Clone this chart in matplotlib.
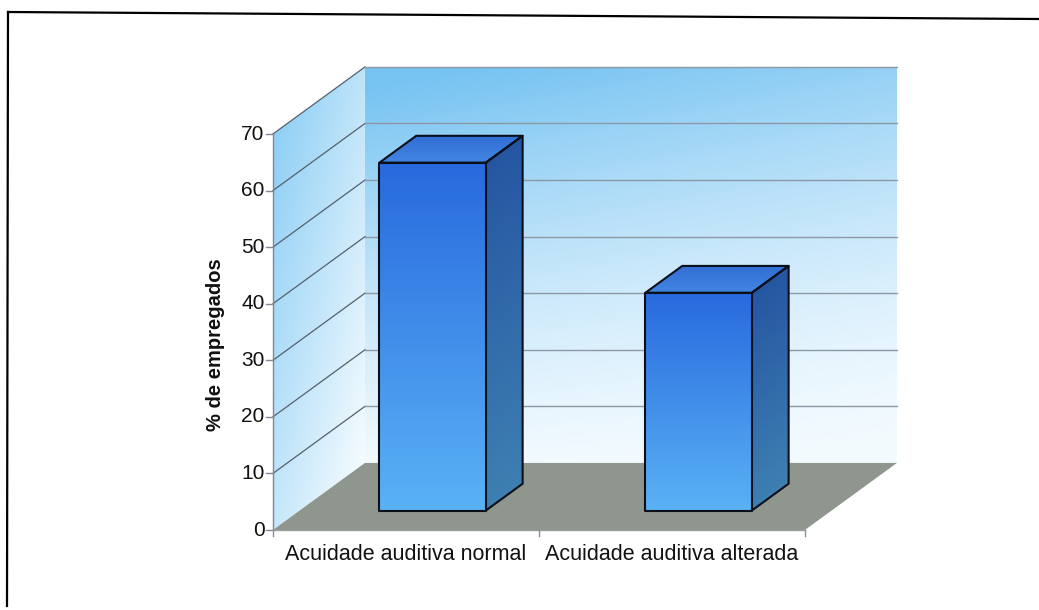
import numpy as np
import matplotlib
matplotlib.use("Agg")
import matplotlib.pyplot as plt
from matplotlib.patches import Polygon
from matplotlib.lines import Line2D

plt.rcParams['font.family'] = ['Liberation Sans', 'DejaVu Sans']

# ---- data ----
categories = ["Acuidade auditiva normal", "Acuidade auditiva alterada"]
values = [61.5, 38.5]
y_ticks = [0, 10, 20, 30, 40, 50, 60, 70]
y_label = "% de empregados"

Y_MAX = 70
N_CAT = len(categories)

# oblique projection: depth d in [0, 1] shifts a point right and up
DX, DY = 0.346, 11.86


def proj(x, y, d):
    return (x + DX * d, y + DY * d)


def mix(c_low, c_high, t):
    c_low = np.array(c_low, float) / 255.0
    c_high = np.array(c_high, float) / 255.0
    t = np.clip(t, 0, 1)[..., None]
    return c_low + (c_high - c_low) * t


fig = plt.figure(figsize=(10.39, 6.10), dpi=100)
ax = fig.add_axes([0, 0, 1, 1])
XLIM = (-1.026, 2.880)
YLIM = (-14.14, 93.69)
ax.axis('off')


def shaded_face(pts, colorfunc, zorder, edge=None, lw=0):
    pts = np.asarray(pts, float)
    x0, x1 = pts[:, 0].min(), pts[:, 0].max()
    y0, y1 = pts[:, 1].min(), pts[:, 1].max()
    n = 300
    X, Y = np.meshgrid(np.linspace(x0, x1, n), np.linspace(y0, y1, n))
    img = colorfunc(X, Y)
    clip = Polygon(pts, closed=True, facecolor='none', edgecolor='none')
    ax.add_patch(clip)
    im = ax.imshow(img, extent=(x0, x1, y0, y1), origin='lower', aspect='auto',
                   zorder=zorder, interpolation='bilinear')
    im.set_clip_path(clip)
    if edge is not None:
        ax.add_patch(Polygon(pts, closed=True, facecolor='none', edgecolor=edge,
                             linewidth=lw, zorder=zorder + 0.5, joinstyle='round'))


# ---- back wall ----
back = [proj(0, 0, 1), proj(N_CAT, 0, 1), proj(N_CAT, Y_MAX, 1), proj(0, Y_MAX, 1)]


def back_color(X, Y):
    y = np.clip((Y - DY) / Y_MAX, 0, 1)
    x = np.clip((X - DX) / N_CAT, 0, 1)
    t = 0.75 * y ** 1.6 + 0.32 * (1 - x) * y ** 0.6
    return mix((244, 251, 255), (118, 195, 242), t)


shaded_face(back, back_color, 1)

# ---- left side wall ----
left = [proj(0, 0, 0), proj(0, 0, 1), proj(0, Y_MAX, 1), proj(0, Y_MAX, 0)]


def left_color(X, Y):
    d = np.clip(X / DX, 0, 1)
    y = np.clip((Y - DY * d) / Y_MAX, 0, 1)
    t = 0.55 * y + 0.48 * (1 - d)
    return mix((246, 252, 255), (145, 208, 245), t)


shaded_face(left, left_color, 1)

# ---- gridlines ----
for v in y_ticks[1:]:
    xa, ya = proj(0, v, 0)
    xb, yb = proj(0, v, 1)
    ax.add_line(Line2D([xa, xb], [ya, yb], color='#55606e', lw=0.9, zorder=2))
    xc, yc = proj(N_CAT, v, 1)
    ax.add_line(Line2D([xb, xc], [yb, yc], color='#8c98a4', lw=1.0, zorder=2))

# ---- floor ----
floor = [proj(0, 0, 0), proj(N_CAT, 0, 0), proj(N_CAT, 0, 1), proj(0, 0, 1)]
ax.add_patch(Polygon(floor, closed=True, facecolor='#8e968e', edgecolor='none', zorder=2))

# ---- axes lines and ticks ----
ax.add_line(Line2D([0, 0], [0, Y_MAX], color='#7f8995', lw=1.0, zorder=3))
for v in y_ticks:
    ax.add_line(Line2D([-0.025, 0], [v, v], color='#7f8995', lw=1.0, zorder=3))
    ax.text(-0.032, v, str(v), ha='right', va='center', fontsize=15, color='#111111')
ax.add_line(Line2D([0, N_CAT], [0, 0], color='#9aa0a0', lw=1.0, zorder=3))
for i in range(N_CAT + 1):
    ax.add_line(Line2D([i, i], [0, -1.1], color='#8a9090', lw=1.0, zorder=3))

# ---- bars ----
HALF_W = 0.2
D0, D1 = 0.29, 0.69
for i, v in enumerate(values):
    xl, xr = i + 0.5 - HALF_W, i + 0.5 + HALF_W
    front = [proj(xl, 0, D0), proj(xr, 0, D0), proj(xr, v, D0), proj(xl, v, D0)]
    side = [proj(xr, 0, D0), proj(xr, 0, D1), proj(xr, v, D1), proj(xr, v, D0)]
    top = [proj(xl, v, D0), proj(xr, v, D0), proj(xr, v, D1), proj(xl, v, D1)]
    yb, yt = DY * D0, v + DY * D0

    def front_color(X, Y, yb=yb, yt=yt):
        return mix((90, 178, 246), (40, 106, 222), (Y - yb) / (yt - yb))

    def side_color(X, Y, v=v, xr=xr):
        d = (X - xr) / DX
        y = Y - DY * d
        return mix((62, 128, 178), (38, 86, 162), y / v)

    def top_color(X, Y, v=v):
        return mix((66, 134, 226), (50, 110, 212), (Y - v - DY * D0) / (DY * (D1 - D0)))

    shaded_face(side, side_color, 4, edge='#0a0f1a', lw=1.5)
    shaded_face(top, top_color, 4, edge='#0a0f1a', lw=1.5)
    shaded_face(front, front_color, 5, edge='#0a0f1a', lw=1.5)

    ax.text(i + 0.5, -4.4, categories[i], ha='center', va='center', fontsize=15.5,
            color='#111111')

ax.text(-0.214, 32.7, y_label, rotation=90, ha='center', va='center',
        fontsize=14.5, fontweight='bold', color='#111111')

ax.set_xlim(*XLIM)
ax.set_ylim(*YLIM)

# ---- outer frame ----
W, H = 1039.0, 610.0
fig.add_artist(Line2D([8 / W, 1.0], [1 - 12 / H, 1 - 19 / H], transform=fig.transFigure,
                      color='black', lw=1.6))
fig.add_artist(Line2D([8 / W, 7 / W], [1 - 12 / H, 1 - 606 / H], transform=fig.transFigure,
                      color='black', lw=1.6))

fig.savefig("out.png", dpi=100)
